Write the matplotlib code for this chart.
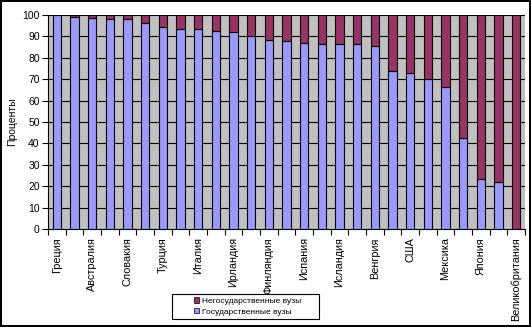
import numpy as np
import matplotlib
matplotlib.use("Agg")
import matplotlib.pyplot as plt
from matplotlib.patches import Patch, Rectangle

plt.rcParams['font.family'] = ['Liberation Sans', 'DejaVu Sans']

# Data: share of students in state / non-state universities, %
countries = [
    "Греция", "", "Австралия", "", "Словакия", "", "Турция", "", "Италия", "",
    "Ирландия", "", "Финляндия", "", "Испания", "", "Исландия", "", "Венгрия", "",
    "США", "", "Мексика", "", "Япония", "", "Великобритания",
]
state = [100, 99, 98.4, 98, 98, 96.1, 94.6, 93.6, 93.6, 92.7,
         92.2, 90, 88.5, 88, 87.1, 86.3, 86.3, 86.3, 85.7, 73.7,
         72.8, 70, 66.3, 42.5, 23.3, 21.9, 0]
private = [100 - v for v in state]

BLUE = '#9999FF'
PURPLE = '#993366'
GRAY = '#C0C0C0'

W, H = 531, 327
fig = plt.figure(figsize=(W / 100, H / 100), dpi=100)
fig.patch.set_facecolor('white')
fig.patch.set_edgecolor('black')
fig.patch.set_linewidth(1.5)

ax = fig.add_axes([48 / W, 1 - 229 / H, (525 - 48) / W, (229 - 15) / H])
ax.set_facecolor(GRAY)

x = np.arange(len(state))
ax.bar(x, state, width=0.46, color=BLUE, edgecolor='black', linewidth=0.8, zorder=3)
ax.bar(x, private, bottom=state, width=0.46, color=PURPLE, edgecolor='black', linewidth=0.8, zorder=3)

ax.set_xlim(-0.5, len(state) - 0.5)
ax.set_ylim(0, 100)
ax.set_yticks(range(0, 101, 10))
ax.yaxis.grid(True, color='black', linewidth=0.8, zorder=1)
ax.set_axisbelow(True)

# category labels at bar centres, tick marks at category boundaries
ax.set_xticks(x)
ax.set_xticklabels(countries, rotation=90, fontsize=7.8)
ax.tick_params(axis='x', which='major', length=0, pad=6)
ax.set_xticks(np.arange(-0.5, len(state), 1), minor=True)
ax.tick_params(axis='x', which='minor', length=4, width=0.8, direction='out')
ax.tick_params(axis='y', length=4, width=0.8, direction='out', labelsize=7.5, pad=2)

for s in ['top', 'right']:
    ax.spines[s].set_visible(False)
for s in ['left', 'bottom']:
    ax.spines[s].set_linewidth(0.8)

ax.set_ylabel('Проценты', fontsize=7.5, labelpad=4)

# legend box drawn separately (Excel-style wide frame)
fig.patches.append(Rectangle((172 / W, 1 - 319 / H), 147 / W, 25 / H, transform=fig.transFigure,
                             facecolor='white', edgecolor='black', linewidth=0.8, zorder=4))
handles = [Patch(facecolor=PURPLE, edgecolor='black', linewidth=0.5, label='Негосударственные вузы'),
           Patch(facecolor=BLUE, edgecolor='black', linewidth=0.5, label='Государственные вузы')]
leg = fig.legend(handles=handles, loc='center left', bbox_to_anchor=(194 / W, 1 - 306.5 / H),
                 fontsize=6, frameon=False, handlelength=0.6, handleheight=0.6,
                 handletextpad=0.3, borderpad=0, labelspacing=0.35, borderaxespad=0)
leg.set_zorder(5)

fig.savefig('out.png', dpi=100, facecolor=fig.get_facecolor(), edgecolor=fig.get_edgecolor())
